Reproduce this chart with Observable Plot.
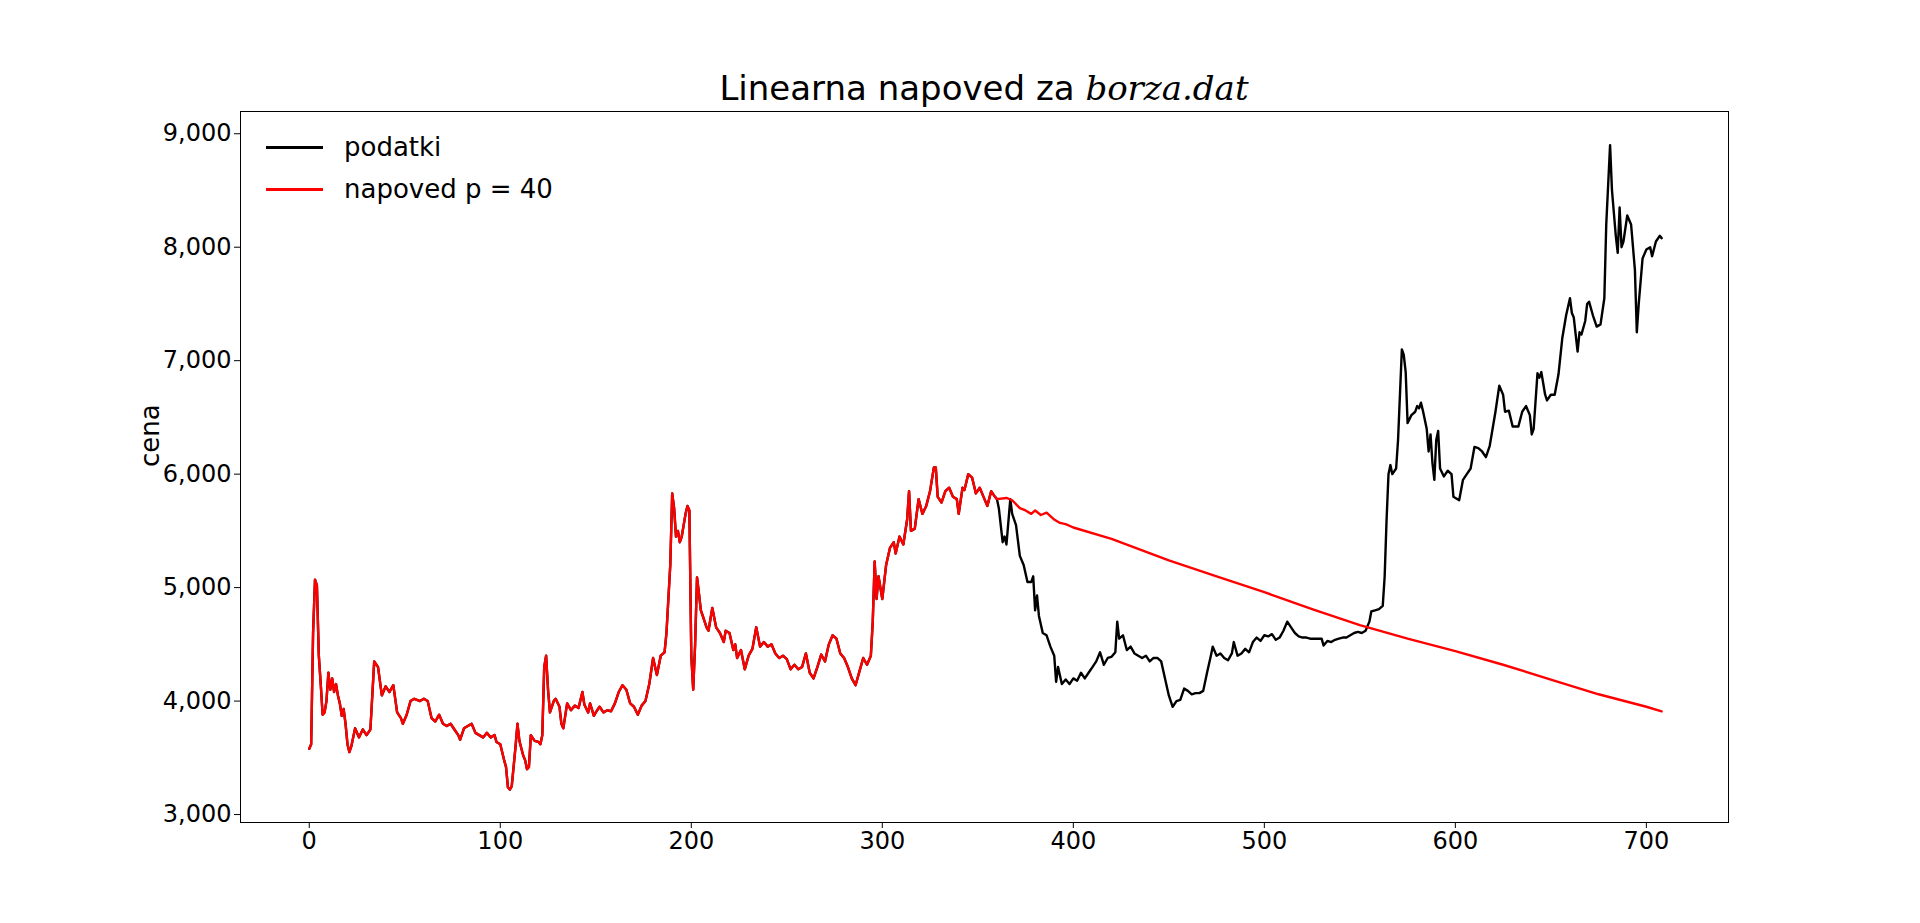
<!DOCTYPE html>
<html><head><meta charset="utf-8">
<script src="https://cdn.jsdelivr.net/npm/d3@7"></script>
<script src="https://cdn.jsdelivr.net/npm/@observablehq/plot@0.6"></script>
<style>
body{margin:0;background:#fff;font-family:"DejaVu Sans",sans-serif;}
#wrap{position:relative;width:1920px;height:923px;}
#title{position:absolute;top:68px;left:240px;width:1488px;text-align:center;font-size:34px;}
#title i{font-family:"DejaVu Serif",serif;font-style:italic;}
.leg{position:absolute;left:266px;font-size:26px;display:flex;align-items:center;}
.leg span.l{display:inline-block;width:57px;height:3px;margin-right:21px;}
</style></head><body>
<div id="wrap"><div id="app"></div>
<div id="title">Linearna napoved za <i>borza.dat</i></div>
<div class="leg" style="top:132px"><span class="l" style="background:#000"></span>podatki</div>
<div class="leg" style="top:174px"><span class="l" style="background:#f00"></span>napoved p = 40</div>
</div>
<script>
const data = [[0,3580],[1,3620],[2,4600],[3,5070],[4,5020],[5,4400],[6,4150],[7,3880],[8,3900],[9,4000],[10,4250],[11,4100],[12,4200],[13,4080],[14,4150],[15,4050],[16,3980],[17,3870],[18,3930],[19,3800],[20,3620],[21,3550],[22,3600],[24,3760],[26,3680],[28,3750],[30,3700],[32,3750],[34,4350],[36,4300],[38,4050],[40,4130],[42,4080],[44,4140],[46,3900],[48,3850],[49,3800],[51,3880],[53,4000],[55,4020],[58,4000],[60,4020],[62,4000],[64,3850],[66,3820],[68,3880],[70,3800],[72,3780],[74,3800],[76,3750],[78,3700],[79,3660],[81,3760],[83,3780],[85,3800],[87,3720],[89,3700],[91,3680],[93,3720],[95,3680],[97,3700],[98,3640],[100,3620],[102,3480],[103,3420],[104,3240],[105,3220],[106,3250],[108,3600],[109,3800],[110,3650],[112,3520],[113,3480],[114,3400],[115,3420],[116,3700],[118,3650],[120,3640],[121,3620],[122,3700],[123,4300],[124,4400],[125,4100],[126,3900],[128,4000],[129,4020],[131,3950],[132,3800],[133,3760],[135,3980],[137,3920],[139,3960],[141,3940],[143,4080],[144,3970],[146,3900],[147,3980],[149,3870],[150,3900],[152,3950],[154,3900],[156,3920],[158,3910],[160,3980],[162,4080],[164,4140],[166,4100],[168,3980],[170,3950],[172,3880],[174,3960],[176,4000],[178,4150],[180,4380],[182,4230],[184,4400],[186,4430],[187,4600],[189,5200],[190,5830],[191,5700],[192,5450],[193,5500],[194,5400],[195,5450],[197,5650],[198,5720],[199,5680],[200,4400],[201,4100],[202,4500],[203,5090],[204,4950],[205,4800],[206,4750],[208,4650],[209,4620],[211,4820],[213,4650],[215,4600],[217,4520],[218,4620],[220,4600],[222,4450],[223,4500],[224,4380],[226,4450],[228,4280],[230,4400],[232,4460],[234,4650],[236,4480],[238,4520],[240,4480],[242,4500],[244,4420],[246,4380],[248,4400],[250,4370],[252,4280],[254,4320],[256,4280],[258,4300],[260,4420],[262,4250],[264,4200],[266,4300],[268,4410],[270,4350],[272,4500],[274,4580],[276,4550],[278,4420],[280,4380],[282,4300],[284,4200],[286,4140],[288,4260],[290,4380],[292,4320],[294,4400],[295,4700],[296,5230],[297,4900],[298,5100],[300,4900],[302,5200],[304,5350],[306,5400],[307,5300],[309,5450],[311,5380],[313,5600],[314,5850],[315,5500],[317,5520],[319,5780],[321,5650],[323,5720],[325,5850],[327,6060],[328,6060],[329,5800],[331,5750],[333,5850],[335,5880],[337,5800],[339,5780],[340,5650],[342,5880],[343,5860],[345,6000],[347,5970],[349,5830],[351,5880],[353,5800],[355,5720],[357,5850],[359,5800],[360,5780],[361,5700],[362,5550],[363,5400],[364,5450],[365,5380],[367,5780],[368,5650],[370,5550],[372,5280],[374,5200],[376,5050],[378,5050],[379,5100],[380,4800],[381,4930],[382,4750],[384,4600],[386,4580],[388,4480],[390,4400],[391,4170],[392,4300],[394,4150],[396,4190],[398,4150],[400,4200],[402,4180],[404,4250],[406,4200],[408,4250],[410,4300],[412,4350],[414,4430],[416,4320],[418,4380],[420,4390],[422,4430],[423,4700],[424,4550],[426,4580],[428,4450],[430,4480],[432,4420],[434,4400],[436,4380],[438,4400],[440,4350],[442,4380],[444,4380],[446,4350],[448,4200],[450,4050],[452,3950],[454,4000],[456,4010],[458,4110],[460,4090],[462,4060],[464,4070],[466,4070],[468,4090],[470,4250],[472,4400],[473,4480],[475,4400],[477,4420],[479,4380],[481,4360],[483,4420],[484,4520],[486,4400],[488,4420],[490,4460],[492,4430],[494,4520],[496,4560],[498,4530],[500,4580],[502,4570],[504,4590],[506,4540],[508,4560],[510,4620],[512,4700],[514,4650],[516,4600],[518,4570],[520,4560],[522,4560],[524,4550],[526,4550],[528,4550],[530,4550],[531,4490],[533,4530],[535,4520],[537,4540],[539,4550],[541,4560],[543,4560],[545,4580],[547,4600],[549,4610],[551,4600],[553,4620],[555,4700],[556,4790],[558,4800],[560,4810],[562,4840],[563,5100],[564,5600],[565,6000],[566,6080],[567,6000],[569,6050],[570,6300],[572,7100],[573,7050],[574,6900],[575,6450],[577,6520],[579,6550],[580,6600],[581,6580],[582,6630],[583,6560],[585,6400],[586,6200],[587,6350],[588,6100],[589,5950],[590,6300],[591,6380],[592,6050],[594,5980],[596,6030],[598,6000],[599,5800],[602,5770],[604,5950],[606,6000],[608,6050],[610,6240],[612,6230],[614,6200],[616,6150],[618,6250],[621,6550],[623,6780],[625,6700],[626,6550],[628,6560],[630,6420],[633,6420],[635,6550],[637,6600],[639,6520],[640,6350],[641,6400],[643,6890],[644,6850],[645,6900],[647,6700],[648,6650],[650,6700],[652,6700],[654,6880],[656,7200],[658,7400],[660,7550],[661,7420],[662,7380],[664,7080],[665,7250],[666,7230],[668,7350],[669,7500],[670,7520],[672,7400],[674,7300],[676,7320],[678,7550],[679,8200],[681,8900],[682,8500],[684,8100],[685,7950],[686,8350],[687,8000],[688,8050],[690,8280],[692,8200],[693,8000],[694,7800],[695,7250],[696,7500],[698,7900],[700,7980],[702,8000],[703,7920],[705,8050],[707,8100],[708,8080]];
const forecast = [[360,5780],[365,5790],[368,5770],[372,5700],[375,5680],[378,5650],[380,5680],[383,5640],[386,5660],[390,5600],[393,5570],[396,5560],[400,5530],[420,5430],[450,5240],[475,5100],[500,4960],[525,4810],[550,4670],[575,4550],[600,4440],[625,4320],[650,4190],[675,4060],[700,3950],[708,3910]];
const xTicks = [0,100,200,300,400,500,600,700];
const yTicks = [3000,4000,5000,6000,7000,8000,9000];
const pts = data.map(([x,y])=>({x,y}));
const red = data.filter(d=>d[0]<360).concat(forecast).map(([x,y])=>({x,y}));
const chart = Plot.plot({
  width:1920, height:923, marginLeft:240, marginRight:192, marginTop:111, marginBottom:101,
  style:{fontFamily:"DejaVu Sans", fontSize:"24px", color:"#000", background:"#fff"},
  x:{domain:[-36,743], ticks:xTicks, tickSize:6, tickPadding:6, label:null},
  y:{domain:[2930,9196], ticks:yTicks, tickSize:6, tickPadding:6, label:null},
  marks:[
    Plot.frame({stroke:"#000", strokeWidth:1}),
    Plot.lineY(pts,{x:"x",y:"y",stroke:"#000",strokeWidth:2.4}),
    Plot.lineY(red,{x:"x",y:"y",stroke:"#f00",strokeWidth:2.4}),
    Plot.axisX({ticks:xTicks,tickSize:6,fontSize:24,label:null}),
    Plot.axisY({ticks:yTicks,tickSize:6,fontSize:24,label:null}),
    Plot.text(["cena"],{frameAnchor:"left",dx:-90,rotate:-90,fontSize:26})
  ]
});
document.getElementById("app").appendChild(chart);
</script></body></html>
